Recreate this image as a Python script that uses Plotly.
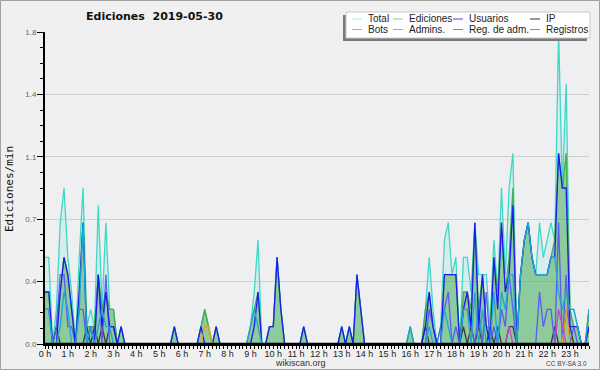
import plotly.graph_objects as go

# 10-minute bins over the day (value = edits per minute)
BINS = list(range(144))
HOURS = [b / 6 for b in BINS]
Z12 = [0] * 12

total = ([0.5, 0.5, 0.0, 0.2, 0.7, 0.9, 0.5, 0.3, 0.0, 0.5, 0.9, 0.1] +
         [0.2, 0.1, 0.8, 0.2, 0.7, 0.2, 0.2, 0.0, 0.1, 0, 0, 0] +
         [0, 0, 0, 0, 0, 0, 0, 0, 0, 0, 0.1, 0] +
         [0, 0, 0, 0, 0, 0.1, 0.2, 0.1, 0, 0.1, 0, 0] +
         [0, 0, 0, 0, 0, 0, 0.1, 0.3, 0.6, 0, 0, 0.1] +
         [0.1, 0.5, 0.2, 0, 0, 0, 0, 0, 0.1, 0, 0, 0] +
         [0, 0, 0, 0, 0, 0, 0.1, 0, 0.1, 0, 0.4, 0.2] +
         Z12 +
         [0.1, 0, 0, 0, 0.2, 0.5, 0.2, 0, 0.1, 0.6, 0.7, 0.4] +
         [0.5, 0, 0.5, 0.5, 0.3, 0.7, 0.4, 0.4, 0.4, 0.1, 0.6, 0.3] +
         [0.9, 0.4, 0.9, 1.1, 0.0, 0.4, 0.6, 0.7, 0.5, 0.4, 0.7, 0.5] +
         [0.6, 0.7, 0.6, 1.8, 0.9, 1.5, 0.2, 0.2, 0.1, 0.0, 0.0, 0.2])

ediciones = ([0.3, 0.3, 0.0, 0.1, 0.3, 0.5, 0.4, 0.2, 0.0, 0.3, 0.7, 0.1] +
             [0.1, 0.1, 0.4, 0.2, 0.3, 0.2, 0.2, 0.0, 0.1, 0, 0, 0] +
             [0, 0, 0, 0, 0, 0, 0, 0, 0, 0, 0.1, 0] +
             [0, 0, 0, 0, 0, 0.1, 0.2, 0.1, 0, 0.1, 0, 0] +
             [0, 0, 0, 0, 0, 0, 0.1, 0.2, 0.3, 0, 0, 0.1] +
             [0.1, 0.5, 0.2, 0, 0, 0, 0, 0, 0.1, 0, 0, 0] +
             [0, 0, 0, 0, 0, 0, 0.1, 0, 0.1, 0, 0.4, 0.2] +
             Z12 +
             [0.1, 0, 0, 0, 0.2, 0.3, 0.1, 0, 0, 0.4, 0.4, 0.4] +
             [0.4, 0, 0.3, 0.3, 0.2, 0.7, 0.2, 0.4, 0.1, 0.1, 0.5, 0.3] +
             [0.7, 0.3, 0.5, 0.9, 0.0, 0.4, 0.6, 0.7, 0.5, 0.4, 0.4, 0.4] +
             [0.4, 0.5, 0.6, 1.1, 0.9, 1.1, 0.2, 0.1, 0.1, 0.0, 0.0, 0.2])

usuarios = ([0.3, 0.3, 0.0, 0.0, 0.3, 0.5, 0.4, 0.2, 0.0, 0.3, 0.7, 0.0] +
            [0.1, 0.0, 0.4, 0.1, 0.3, 0.1, 0.1, 0.0, 0.1, 0, 0, 0] +
            [0, 0, 0, 0, 0, 0, 0, 0, 0, 0, 0.1, 0] +
            [0, 0, 0, 0, 0, 0.1, 0.0, 0.0, 0, 0.1, 0, 0] +
            [0, 0, 0, 0, 0, 0, 0.0, 0.1, 0.3, 0, 0, 0.1] +
            [0.1, 0.5, 0.2, 0, 0, 0, 0, 0, 0.1, 0, 0, 0] +
            [0, 0, 0, 0, 0, 0, 0.1, 0, 0.1, 0, 0.4, 0.2] +
            Z12 +
            [0, 0, 0, 0, 0.1, 0.3, 0.1, 0, 0, 0.4, 0.4, 0.4] +
            [0.4, 0, 0.2, 0.3, 0.1, 0.7, 0.1, 0.4, 0.1, 0.0, 0.5, 0.2] +
            [0.7, 0.3, 0.4, 0.8, 0.0, 0.4, 0.6, 0.7, 0.5, 0.4, 0.4, 0.4] +
            [0.4, 0.5, 0.5, 1.1, 0.9, 0.9, 0.1, 0.1, 0.1, 0.0, 0.0, 0.1])

ip = ([0, 0, 0, 0.1, 0, 0, 0, 0, 0, 0, 0, 0.1] +
      [0, 0.1, 0, 0.1, 0, 0.1, 0.1, 0, 0, 0, 0, 0] +
      Z12 * 6 +
      [0, 0, 0, 0, 0.1, 0, 0, 0, 0, 0, 0, 0] +
      [0, 0, 0.1, 0, 0.1, 0, 0.1, 0, 0, 0.1, 0, 0.1] +
      [0, 0, 0.1, 0.1, 0, 0, 0, 0, 0, 0, 0, 0] +
      [0, 0, 0.1, 0, 0, 0.2, 0.1, 0, 0, 0, 0, 0.1])

admins = ([0.2, 0.2, 0, 0, 0.1, 0.3, 0.2, 0, 0, 0.2, 0.7, 0] +
          [0.1, 0, 0.1, 0.2, 0.1, 0.1, 0, 0, 0, 0, 0, 0] +
          Z12 * 2 +
          [0, 0, 0, 0, 0, 0, 0.1, 0.2, 0.1, 0, 0, 0] +
          Z12 * 3 +
          [0.1, 0, 0, 0, 0, 0.1, 0, 0, 0, 0.2, 0.1, 0] +
          [0, 0, 0.2, 0.2, 0, 0.3, 0, 0.2, 0, 0, 0.3, 0] +
          [0.3, 0.2, 0.4, 0.4, 0, 0.4, 0.6, 0.7, 0.5, 0.4, 0.4, 0.4] +
          [0.4, 0.5, 0.5, 0.3, 0.2, 0.3, 0.2, 0.2, 0.1, 0.0, 0.0, 0.2])

registros = ([0.2, 0.2, 0, 0.1, 0.4, 0.4, 0.1, 0.1, 0, 0.2, 0.2, 0] +
             [0.1, 0, 0.4, 0, 0.4, 0, 0, 0, 0, 0, 0, 0] +
             Z12 * 6 +
             [0, 0, 0, 0, 0, 0.2, 0.1, 0, 0.1, 0.2, 0.3, 0] +
             [0.1, 0, 0.2, 0.2, 0.1, 0, 0.2, 0, 0.3, 0, 0.1, 0] +
             [0.2, 0.1, 0.4, 0.2, 0, 0, 0, 0, 0, 0, 0.3, 0.1] +
             [0.2, 0.2, 0, 0.7, 0, 0.4, 0, 0.1, 0, 0, 0, 0])

bots = (Z12 * 3 +
        [0, 0, 0, 0, 0, 0, 0.1, 0.1, 0, 0, 0, 0] +
        Z12 * 7 +
        [0, 0, 0, 0, 0, 0.2, 0, 0, 0, 0, 0, 0])

reg_adm = (Z12 * 10 +
           [0, 0, 0.1, 0, 0, 0, 0, 0, 0, 0, 0, 0] +
           [0, 0, 0, 0.2, 0.1, 0, 0, 0, 0, 0, 0, 0])

Y_TICKS = [0, 0.36, 0.72, 1.08, 1.44, 1.8]
Y_TICK_TEXT = ["0.0", "0.4", "0.7", "1.1", "1.4", "1.8"]

LEGEND_ROWS = [["Total", "Ediciones", "Usuarios", "IP"],
               ["Bots", "Admins.", "Reg. de adm.", "Registros"]]

COLORS = {
    "Total": "#3fd8c8", "Ediciones": "#46ad4e", "Usuarios": "#1c1cf0",
    "IP": "#3a3a3a", "Bots": "#f0a020", "Admins.": "#1fa6d6",
    "Reg. de adm.": "#d040d0", "Registros": "#5c5cf0",
}
SWATCH = {
    "Total": "#a8e6e0", "Ediciones": "#88cc8c", "Usuarios": "#4646ee",
    "IP": "#333333", "Bots": "#f0a040", "Admins.": "#48c8e0",
    "Reg. de adm.": "#d050e0", "Registros": "#8080f4",
}

fig = go.Figure()
fig.add_trace(go.Scatter(x=HOURS, y=total, mode="lines", fill="tozeroy",
                         fillcolor="rgba(64,217,201,0.13)",
                         line=dict(color=COLORS["Total"], width=1.3)))
fig.add_trace(go.Scatter(x=HOURS, y=ediciones, mode="lines", fill="tozeroy",
                         fillcolor="rgba(60,165,70,0.48)",
                         line=dict(color=COLORS["Ediciones"], width=1.3)))
for name, vals in [("IP", ip), ("Registros", registros), ("Usuarios", usuarios),
                   ("Admins.", admins), ("Bots", bots),
                   ("Reg. de adm.", reg_adm)]:
    fig.add_trace(go.Scatter(x=HOURS, y=vals, mode="lines",
                             line=dict(color=COLORS[name], width=1.3)))

L, T, PW, PH = 45, 32, 544, 312


def px(x):
    return (x - L) / PW


def py(y):
    return (T + PH - y) / PH


shapes = []
annotations = []

# baseline covering zero-valued segments
shapes.append(dict(type="line", xref="paper", yref="y", x0=0, x1=1, y0=0, y1=0,
                   line=dict(color="#000", width=2.5), layer="above"))
# outer border
shapes.append(dict(type="rect", xref="paper", yref="paper",
                   x0=px(0.5), x1=px(599.5), y0=py(369.5), y1=py(0.5),
                   line=dict(color="#a0a0a0", width=1), layer="above"))
# legend shadow and box
shapes.append(dict(type="rect", xref="paper", yref="paper",
                   x0=px(343), x1=px(587), y0=py(41), y1=py(15),
                   fillcolor="#7a7a7a", line=dict(width=0), layer="above"))
shapes.append(dict(type="rect", xref="paper", yref="paper",
                   x0=px(346), x1=px(590), y0=py(38), y1=py(12),
                   fillcolor="#ffffff", line=dict(color="#c8c8c8", width=1),
                   layer="above"))

col_sw = [352, 393, 453, 530]
row_y = [19, 29.5]
for r, row in enumerate(LEGEND_ROWS):
    for c, name in enumerate(row):
        x0 = col_sw[c]
        shapes.append(dict(type="line", xref="paper", yref="paper",
                           x0=px(x0), x1=px(x0 + 10), y0=py(row_y[r]), y1=py(row_y[r]),
                           line=dict(color=SWATCH[name], width=1), layer="above"))
        annotations.append(dict(text=name, xref="paper", yref="paper",
                                x=px(x0 + 14), y=py(row_y[r]), xanchor="left",
                                yanchor="middle", showarrow=False,
                                font=dict(family="Liberation Sans", size=10, color="#222")))

annotations.append(dict(text="<b>Ediciones\u00a0\u00a02019-05-30</b>", xref="paper", yref="paper",
                        x=px(154), y=py(17), xanchor="center", yanchor="middle",
                        showarrow=False,
                        font=dict(family="DejaVu Sans", size=11, color="#111")))
annotations.append(dict(text="Ediciones/min", xref="paper", yref="paper",
                        x=px(9), y=py(189), textangle=-90, xanchor="center",
                        yanchor="middle", showarrow=False,
                        font=dict(family="DejaVu Sans Mono", size=11, color="#111")))
annotations.append(dict(text="wikiscan.org", xref="paper", yref="paper",
                        x=px(300), y=py(363), xanchor="center", yanchor="middle",
                        showarrow=False,
                        font=dict(family="Liberation Sans", size=9, color="#333")))
annotations.append(dict(text="CC BY-SA 3.0", xref="paper", yref="paper",
                        x=px(589), y=py(363), xanchor="right", yanchor="middle",
                        showarrow=False,
                        font=dict(family="Liberation Sans", size=6.5, color="#444")))

fig.update_layout(
    width=600, height=370,
    margin=dict(l=L, r=600 - L - PW, t=T, b=370 - T - PH, pad=0, autoexpand=False),
    paper_bgcolor="#f0f0f0", plot_bgcolor="#eeeff1",
    showlegend=False, hovermode=False,
    font=dict(family="Liberation Sans", size=9, color="#222"),
    shapes=shapes, annotations=annotations,
    xaxis=dict(range=[0, 143 / 6], tickmode="linear", tick0=0, dtick=1,
               ticksuffix=" h", ticks="outside", ticklen=3, tickwidth=1,
               tickcolor="#000", showline=True, linecolor="#000", linewidth=2,
               showgrid=False, zeroline=False, automargin=False, ticklabelstandoff=-3,
               tickfont=dict(family="Liberation Sans", size=9, color="#222"),
               minor=dict(tickmode="linear", tick0=0, dtick=1 / 6, ticks="outside",
                          ticklen=3, tickwidth=1, tickcolor="#000", showgrid=False)),
    yaxis=dict(range=[0, 1.8], tickmode="array", tickvals=Y_TICKS, ticktext=Y_TICK_TEXT,
               ticks="outside", ticklen=6, tickwidth=1, tickcolor="#000",
               showline=True, linecolor="#000", linewidth=2, automargin=False,
               ticklabelstandoff=-1,
               showgrid=True, gridcolor="#cfcfcf", gridwidth=1, zeroline=False,
               tickfont=dict(family="Liberation Sans", size=8, color="#666"),
               minor=dict(tickmode="linear", tick0=0, dtick=0.09, ticks="outside",
                          ticklen=3, tickwidth=1, tickcolor="#000", showgrid=False)),
)

fig.write_html("out.html", config={"displayModeBar": False, "staticPlot": True},
               post_script="document.body.style.margin='0';document.body.style.overflow='hidden';")
